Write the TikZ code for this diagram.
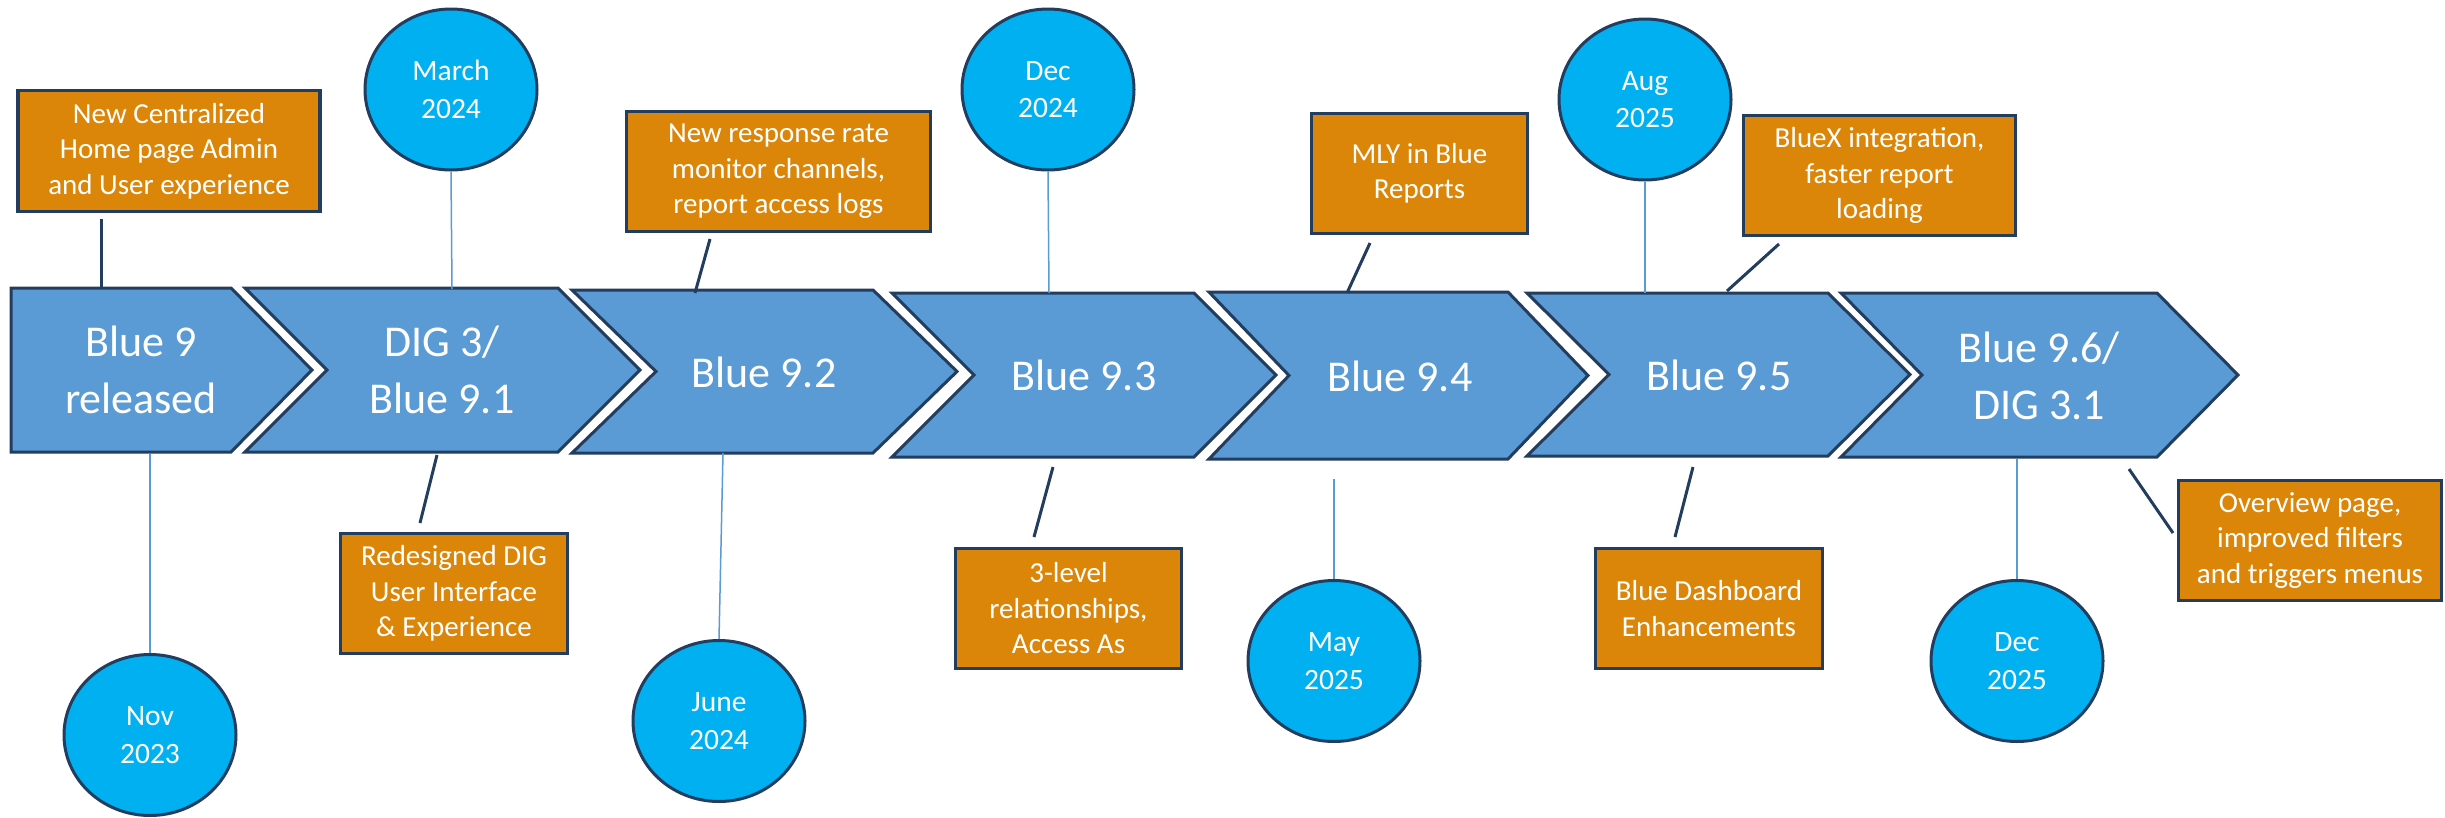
\documentclass[tikz,border=0pt]{standalone}
\usepackage{fontspec}
\setmainfont{Carlito}
\usetikzlibrary{shapes.geometric}
\definecolor{chevfill}{HTML}{5B9BD5}
\definecolor{edgecol}{HTML}{233D5E}
\definecolor{circfill}{HTML}{00B0F0}
\definecolor{notefill}{HTML}{DB8608}
\definecolor{linkblue}{HTML}{5B9BD5}
\begin{document}
\begin{tikzpicture}[x=1pt,y=-1pt,
  chev/.style={fill=chevfill,draw=edgecol,line width=3pt,line join=miter},
  chevtext/.style={text=white,font=\fontsize{44}{57}\selectfont,align=center,inner sep=0pt},
  datecirc/.style={ellipse,fill=circfill,draw=edgecol,line width=3pt,minimum width=172pt,minimum height=161pt,inner sep=0pt,text=white,align=center,font=\fontsize{29.5}{37.5}\selectfont},
  notebox/.style={rectangle,fill=notefill,draw=edgecol,line width=3.5pt,inner sep=0pt,text=white,align=center,font=\fontsize{29}{35.5}\selectfont},
  dateline/.style={draw=linkblue,line width=1.5pt},
  noteline/.style={draw=edgecol,line width=3pt}]
\useasboundingbox (0,0) rectangle (2445,817);
\fill[white] (0,0) rectangle (2445,817);

% chevrons
\draw[chev] (11,288) -- (231,288) -- (312,370) -- (231,452) -- (11,452) -- cycle;
\draw[chev] (245,288) -- (558,288) -- (640,370) -- (558,452) -- (245,452) -- (327,370) -- cycle;
\draw[chev] (572,290) -- (873,290) -- (957,371.5) -- (873,453) -- (572,453) -- (656,371.5) -- cycle;
\draw[chev] (892,293) -- (1194,293) -- (1276,375) -- (1194,457) -- (892,457) -- (974,375) -- cycle;
\draw[chev] (1209,292) -- (1508,292) -- (1588,375.5) -- (1508,459) -- (1209,459) -- (1289,375.5) -- cycle;
\draw[chev] (1527,293) -- (1828,293) -- (1910,374.5) -- (1828,456) -- (1527,456) -- (1609,374.5) -- cycle;
\draw[chev] (1841,293) -- (2157,293) -- (2238,375) -- (2157,457) -- (1841,457) -- (1922,375) -- cycle;

\node[chevtext] (c1) at (141,370) {Blue 9\\released};
\node[chevtext] (c2) at (442,370) {DIG 3/\\Blue 9.1};
\node[chevtext] (c3) at (764,372) {Blue 9.2};
\node[chevtext] (c4) at (1084,375) {Blue 9.3};
\node[chevtext] (c5) at (1400,376) {Blue 9.4};
\node[chevtext] (c6) at (1719,375) {Blue 9.5};
\node[chevtext] (c7) at (2039,376) {Blue 9.6/\\DIG 3.1};

% date circles
\node[datecirc] (d1) at (150,735) {Nov\\2023};
\node[datecirc] (d2) at (451,89.5) {March\\2024};
\node[datecirc] (d3) at (719,721) {June\\2024};
\node[datecirc] (d4) at (1048,89.5) {Dec\\2024};
\node[datecirc] (d5) at (1334,661) {May\\2025};
\node[datecirc] (d6) at (1645,99.5) {Aug\\2025};
\node[datecirc] (d7) at (2017,661) {Dec\\2025};

% date connectors
\coordinate (t1) at (150,454);
\coordinate (t2) at (452,289);
\coordinate (t3) at (723,453);
\coordinate (t4) at (1049,293);
\coordinate (t5) at (1334,479);
\coordinate (t6) at (1645,293);
\coordinate (t7) at (2017,459);
\draw[dateline] (t1) -- (d1.north);
\draw[dateline] (d2.south) -- (t2);
\draw[dateline] (t3) -- (d3.north);
\draw[dateline] (d4.south) -- (t4);
\draw[dateline] (t5) -- (d5.north);
\draw[dateline] (d6.south) -- (t6);
\draw[dateline] (t7) -- (d7.north);

% note boxes
\node[notebox,minimum width=302pt,minimum height=121pt] (nA) at (169,151) {New Centralized\\Home page Admin\\and User experience};
\node[notebox,minimum width=227pt,minimum height=120pt] (nB) at (454,593.5) {Redesigned DIG\\User Interface\\\& Experience};
\node[notebox,minimum width=304pt,minimum height=120pt] (nC) at (778.5,171.5) {New response rate\\monitor channels,\\report access logs};
\node[notebox,minimum width=226pt,minimum height=120pt] (nD) at (1068.5,608.5) {3-level\\relationships,\\Access As};
\node[notebox,minimum width=216pt,minimum height=120pt] (nE) at (1419.5,173.5) {MLY in Blue\\Reports};
\node[notebox,minimum width=272pt,minimum height=120pt] (nF) at (1879.5,175.5) {BlueX integration,\\faster report\\loading};
\node[notebox,minimum width=227pt,minimum height=120pt] (nG) at (1709,608.5) {Blue Dashboard\\Enhancements};
\node[notebox,minimum width=263pt,minimum height=120pt] (nH) at (2310,540.5) {Overview page,\\improved filters\\and triggers menus};

% note connectors
\coordinate (a1) at (101,219);  \coordinate (a2) at (101,287);
\coordinate (b1) at (437,455);  \coordinate (b2) at (420,523);
\coordinate (e1) at (710,239);  \coordinate (e2) at (695,293);
\coordinate (f1) at (1053,467); \coordinate (f2) at (1034,537);
\coordinate (g1) at (1370,243); \coordinate (g2) at (1347,293);
\coordinate (h1) at (1693,467); \coordinate (h2) at (1675,537);
\coordinate (k1) at (1779,244); \coordinate (k2) at (1727,291);
\coordinate (m1) at (2129,469); \coordinate (m2) at (2173,533);
\draw[noteline] (a1) -- (a2);
\draw[noteline] (b1) -- (b2);
\draw[noteline] (e1) -- (e2);
\draw[noteline] (f1) -- (f2);
\draw[noteline] (g1) -- (g2);
\draw[noteline] (h1) -- (h2);
\draw[noteline] (k1) -- (k2);
\draw[noteline] (m1) -- (m2);
\end{tikzpicture}
\end{document}
